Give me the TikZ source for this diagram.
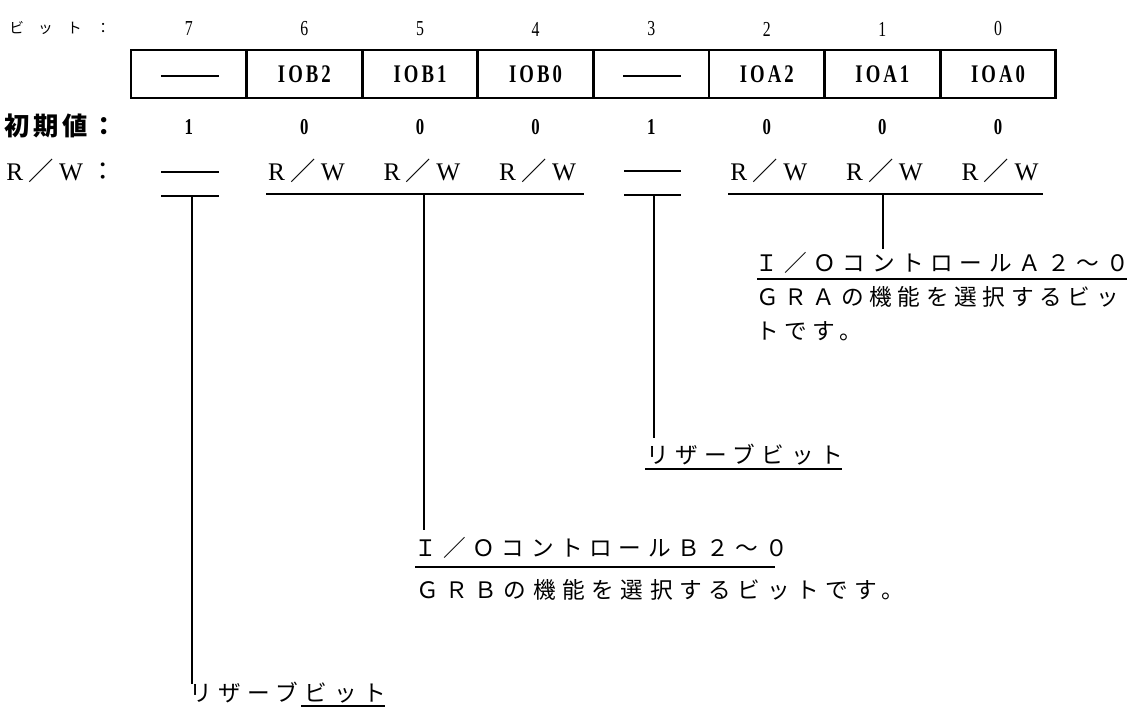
\documentclass[tikz,border=0pt]{standalone}
\usepackage{fontspec}
\setmainfont{Liberation Serif}
\newfontfamily\jp{Noto Sans CJK JP}
\newfontfamily\cond[FakeStretch=0.74]{Liberation Serif}
\usetikzlibrary{calc}
\newcommand{\rwtext}{R\kern4pt{\jp ／}\kern4pt W}
\begin{document}
\begin{tikzpicture}[x=0.75pt,y=-0.75pt,
  cell/.style={draw, line width=2pt, minimum width=86.7pt, minimum height=36pt, inner sep=0pt,
    font=\cond\bfseries\fontsize{19}{19}\selectfont\addfontfeature{LetterSpace=12}},
  bitnum/.style={inner sep=0pt, font=\cond\fontsize{16}{16}\selectfont},
  initv/.style={inner sep=0pt, font=\cond\bfseries\fontsize{17}{17}\selectfont},
  rwv/.style={inner sep=0pt, font=\fontsize{19}{19}\selectfont},
  jpl/.style={inner sep=0pt, anchor=west, font=\jp\fontsize{17}{17}\selectfont\addfontfeature{LetterSpace=29}},
  jpn/.style={inner sep=0pt, anchor=west, font=\jp\fontsize{17}{17}\selectfont\addfontfeature{LetterSpace=25}},
  ln/.style={line width=1.1pt},
  dsh/.style={line width=1.1pt}
]
\useasboundingbox (0,0) rectangle (1127,713);

% row labels
\node[inner sep=0pt, anchor=west, font=\jp\fontsize{11}{11}\selectfont\addfontfeature{LetterSpace=97}] (lbit) at (9,28) {ビット：};
\node[inner sep=0pt, anchor=west, font=\jp\bfseries\fontsize{19}{19}\selectfont\addfontfeature{LetterSpace=15}] (linit) at (4,126) {初期値：};
\node[inner sep=0pt, anchor=west, font=\fontsize{19}{19}\selectfont] (lrw) at (6,171) {\rwtext\kern5.5pt{\jp ：}};

% register cells
\node[cell] (c7) at (188.8,74) {};
\node[cell] (c6) at (304.4,74) {IOB2};
\node[cell] (c5) at (420.0,74) {IOB1};
\node[cell] (c4) at (535.6,74) {IOB0};
\node[cell] (c3) at (651.2,74) {};
\node[cell] (c2) at (766.8,74) {IOA2};
\node[cell] (c1) at (882.4,74) {IOA1};
\node[cell] (c0) at (998.0,74) {IOA0};
\draw[dsh] ($(c7.center)+(-28,2)$) -- ($(c7.center)+(30,2)$);
\draw[dsh] ($(c3.center)+(-28,2)$) -- ($(c3.center)+(30,2)$);

% bit numbers
\foreach \b/\x in {7/188.8,6/304.4,5/420.0,4/535.6,3/651.2,2/766.8,1/882.4,0/998.0}
  \node[bitnum] (b\b) at (\x,29) {\b};

% initial values
\foreach \b/\x/\v in {7/188.8/1,6/304.4/0,5/420.0/0,4/535.6/0,3/651.2/1,2/766.8/0,1/882.4/0,0/998.0/0}
  \node[initv] (i\b) at (\x,127) {\v};

% R/W row
\foreach \b/\x in {6/304.4,5/420.0,4/535.6,2/766.8,1/882.4,0/998.0}
  \node[rwv] (rw\b) at (\x+2,171) {\rwtext};

% bit 7 dashes
\coordinate (t7) at (192,196);
\draw[dsh] (161,172) -- (219,172);
\draw[dsh] (161,196) -- (219,196);
% bit 3 dashes
\coordinate (t3) at (654,195);
\draw[dsh] (624,171) -- (681,171);
\draw[dsh] (624,195) -- (681,195);

% group underlines
\coordinate (tB) at (424,194);
\draw[ln] (266,194) -- (584,194);
\coordinate (tA) at (883,194);
\draw[ln] (728,194) -- (1043,194);

% I/O control A
\node[jpl] (ioA) at (755,263) {Ｉ／ＯコントロールＡ２〜０};
\draw[ln] ($(ioA.west)+(2,16)$) -- (1127,279);
\node[jpn] (dA1) at (756,297) {ＧＲＡの機能を選択するビッ};
\node[jpn] (dA2) at (756,331) {トです。};
\draw[ln] (tA) -- ($(tA |- ioA.north)+(0,-3)$);

% reserve bit 3
\node[jpl] (r3) at (646,455) {リザーブビット};
\draw[ln] ($(r3.west)+(-1,14)$) -- ($(r3.west)+(196,14)$);
\draw[ln] (t3) -- ($(t3 |- r3.north)+(0,-6)$);

% I/O control B
\node[jpl] (ioB) at (414,548) {Ｉ／ＯコントロールＢ２〜０};
\draw[ln] ($(ioB.west)+(1,19)$) -- ($(ioB.west)+(361,19)$);
\node[jpl] (dB) at (416,590) {ＧＲＢの機能を選択するビットです。};
\draw[ln] (tB) -- ($(tB |- ioB.north)+(0,-7)$);

% reserve bit 7
\node[jpl] (r7) at (189,693) {リザーブビット};
\draw[ln] ($(r7.west)+(112,13)$) -- ($(r7.west)+(196,13)$);
\draw[ln] (t7) -- ($(t7 |- r7.north)+(0,2)$);
\end{tikzpicture}
\end{document}
